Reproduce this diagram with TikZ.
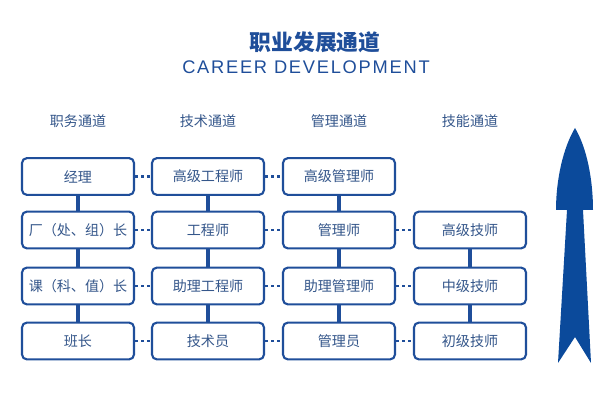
\documentclass[tikz,border=0pt]{standalone}
\usepackage{fontspec}
\setmainfont{Noto Sans CJK SC}
\newfontfamily\titolofont[LetterSpace=9.6]{Liberation Sans}
\usepackage{xcolor}
\definecolor{blu}{HTML}{1F4E9A}
\definecolor{bluscuro}{HTML}{0B4A9B}
\definecolor{testo}{HTML}{34568A}
\tikzset{
    casella/.style = {draw = blu, line width = 1.5pt, rounded corners = 3.5pt, fill = white,
        minimum width = 2.8cm, minimum height = 0.92cm, inner sep = 0pt,
        text = testo, font = \fontsize{10}{12}\selectfont},
    intestazione/.style = {text = testo, font = \fontsize{10}{12}\selectfont},
    punti/.style = {draw = blu, line width = 2pt, dash pattern = on 2pt off 2.3pt},
    asta/.style = {draw = blu, line width = 2.2pt}
}
\begin{document}
\begin{tikzpicture}[x = 0.025cm, y = -0.025cm]
    % Parametri
    \pgfmathsetmacro{\ca}{78}
    \pgfmathsetmacro{\cb}{208}
    \pgfmathsetmacro{\cc}{339}
    \pgfmathsetmacro{\cd}{470}
    \pgfmathsetmacro{\ra}{176.5}
    \pgfmathsetmacro{\rb}{230}
    \pgfmathsetmacro{\rc}{286}
    \pgfmathsetmacro{\rd}{341}
    \useasboundingbox (0,0) rectangle (600,400);
    % Titolo
    \node[text = blu, font = \fontsize{15.5}{18}\selectfont\bfseries] (titolo) at (315,42) {职业发展通道};
    \node[text = blu, font = \fontsize{13}{15}\selectfont\titolofont] (sottotitolo) at (306,67) {CAREER DEVELOPMENT};
    % Intestazioni
    \node[intestazione] (h1) at (\ca,121) {职务通道};
    \node[intestazione] (h2) at (\cb,121) {技术通道};
    \node[intestazione] (h3) at (\cc,121) {管理通道};
    \node[intestazione] (h4) at (\cd,121) {技能通道};
    % Linee verticali
    \coordinate (v1a) at (\ca,\ra); \coordinate (v1b) at (\ca,\rd);
    \coordinate (v2a) at (\cb,\ra); \coordinate (v2b) at (\cb,\rd);
    \coordinate (v3a) at (\cc,\ra); \coordinate (v3b) at (\cc,\rd);
    \coordinate (v4a) at (\cd,\rb); \coordinate (v4b) at (\cd,\rd);
    \draw[asta] (v1a) -- (v1b);
    \draw[asta] (v2a) -- (v2b);
    \draw[asta] (v3a) -- (v3b);
    \draw[asta] (v4a) -- (v4b);
    % Caselle
    \node[casella] (a1) at (\ca,\ra) {经理};
    \node[casella] (a2) at (\ca,\rb) {厂（处、组）长};
    \node[casella] (a3) at (\ca,\rc) {课（科、值）长};
    \node[casella] (a4) at (\ca,\rd) {班长};
    \node[casella] (b1) at (\cb,\ra) {高级工程师};
    \node[casella] (b2) at (\cb,\rb) {工程师};
    \node[casella] (b3) at (\cb,\rc) {助理工程师};
    \node[casella] (b4) at (\cb,\rd) {技术员};
    \node[casella] (c1) at (\cc,\ra) {高级管理师};
    \node[casella] (c2) at (\cc,\rb) {管理师};
    \node[casella] (c3) at (\cc,\rc) {助理管理师};
    \node[casella] (c4) at (\cc,\rd) {管理员};
    \node[casella] (d2) at (\cd,\rb) {高级技师};
    \node[casella] (d3) at (\cd,\rc) {中级技师};
    \node[casella] (d4) at (\cd,\rd) {初级技师};
    % Punti
    \draw[punti] (a1.east) -- (b1.west);
    \draw[punti] (a2.east) -- (b2.west);
    \draw[punti] (a3.east) -- (b3.west);
    \draw[punti] (a4.east) -- (b4.west);
    \draw[punti] (b1.east) -- (c1.west);
    \draw[punti] (b2.east) -- (c2.west);
    \draw[punti] (b3.east) -- (c3.west);
    \draw[punti] (b4.east) -- (c4.west);
    \draw[punti] (c2.east) -- (d2.west);
    \draw[punti] (c3.east) -- (d3.west);
    \draw[punti] (c4.east) -- (d4.west);
    % Freccia
    \fill[bluscuro] (575,128) .. controls (563,148) and (556,180) .. (556,210)
        -- (567,210) -- (558,363) -- (575,337) -- (591,363) -- (583,210) -- (593,210)
        .. controls (593,180) and (587,148) .. (575,128) -- cycle;
\end{tikzpicture}
\end{document}
